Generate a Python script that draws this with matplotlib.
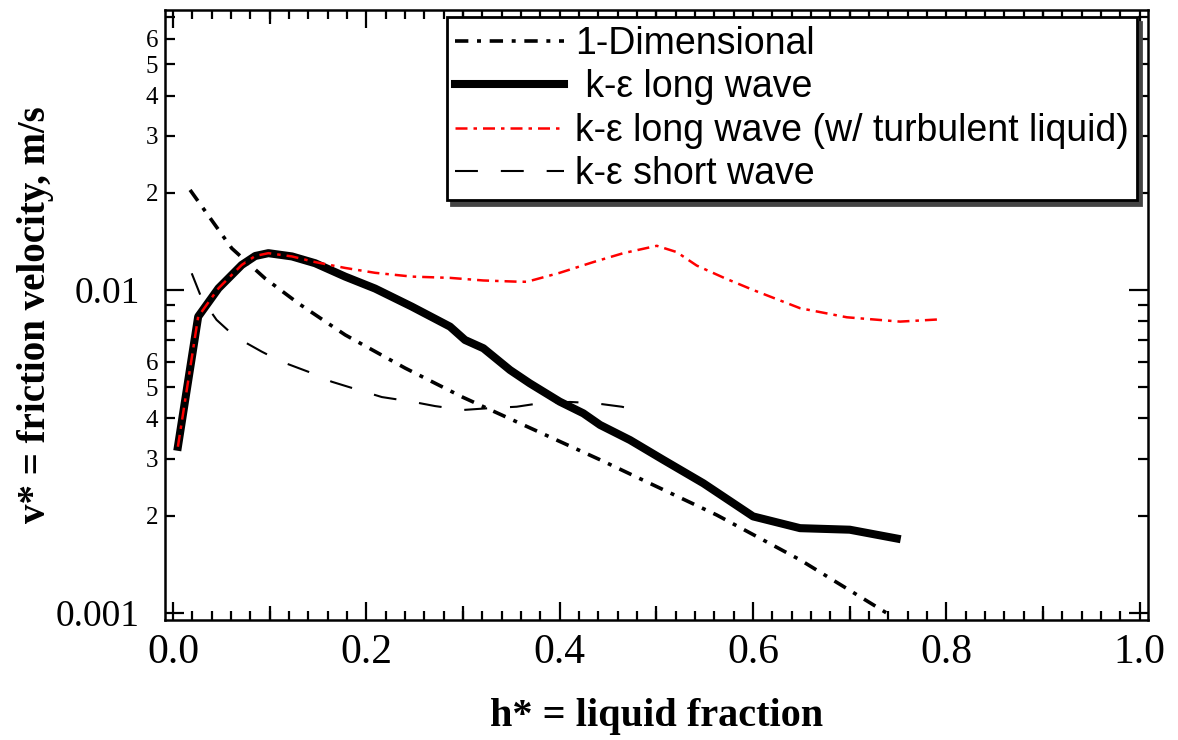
import numpy as np
import matplotlib
matplotlib.use("Agg")
import matplotlib.pyplot as plt
from matplotlib.ticker import FixedLocator, FuncFormatter, MultipleLocator

# ---- data: friction velocity v* (m/s) vs liquid fraction h* ----
h_1d = [0.0176, 0.0607, 0.095, 0.1296, 0.178, 0.240, 0.300, 0.3600, 0.4417, 0.5624, 0.6486, 0.738]
v_1d = [0.0204, 0.01346, 0.01087, 0.00909, 0.00726, 0.00573, 0.00465, 0.00385, 0.00298, 0.00201, 0.00146, 0.00100]

h_long = [0.005, 0.026, 0.047, 0.071, 0.085, 0.0986, 0.123, 0.147, 0.178, 0.209, 0.247,
          0.2865, 0.302, 0.321, 0.3486, 0.369, 0.400, 0.4244, 0.4417, 0.4727, 0.507,
          0.5486, 0.600, 0.6486, 0.700, 0.7486]
v_long = [0.00327, 0.00827, 0.01012, 0.01195, 0.01274, 0.0130, 0.0127, 0.0121, 0.0110, 0.0101, 0.00888,
          0.00770, 0.00700, 0.00660, 0.00565, 0.00514, 0.00451, 0.00415, 0.00382, 0.00343, 0.00298,
          0.00252, 0.00199, 0.00183, 0.00181, 0.00170]

h_turb = [0.005, 0.026, 0.047, 0.071, 0.085, 0.0986, 0.123, 0.147, 0.178, 0.209, 0.247,
          0.2865, 0.321, 0.3555, 0.366, 0.400, 0.4348, 0.4658, 0.5004, 0.521, 0.5417,
          0.570, 0.600, 0.6486, 0.697, 0.752, 0.7934]
v_turb = [0.00327, 0.00827, 0.01012, 0.01195, 0.01274, 0.0130, 0.0127, 0.0122, 0.0117, 0.0113, 0.0110,
          0.0109, 0.0107, 0.01061, 0.0106, 0.0113, 0.0122, 0.0130, 0.0137, 0.0131, 0.0119,
          0.0109, 0.0100, 0.00878, 0.00823, 0.00798, 0.00811]

h_short = [0.0193, 0.0297, 0.045, 0.064, 0.0918, 0.112, 0.140, 0.164, 0.192, 0.216, 0.247,
           0.271, 0.300, 0.3245, 0.3555, 0.3796, 0.4107, 0.4365, 0.4641, 0.4797]
v_short = [0.01126, 0.0094, 0.00808, 0.00717, 0.00644, 0.0060, 0.00558, 0.0052, 0.0049, 0.00466, 0.00451,
           0.00437, 0.00425, 0.0043, 0.00435, 0.00446, 0.0045, 0.00446, 0.00435, 0.00425]

labels = ["1-Dimensional", " k-\u03b5 long wave",
          "k-\u03b5 long wave (w/ turbulent liquid)", "k-\u03b5 short wave"]

serif = "Liberation Serif"
sans = "Liberation Sans"

fig = plt.figure(figsize=(11.78, 7.40), dpi=100)
ax = fig.add_axes([0.1401, 0.1622, 0.8345, 0.8243])

ax.plot(h_long, v_long, color="black", lw=5.8, solid_joinstyle="round", label=labels[1], zorder=3)
ax.plot(h_turb, v_turb, color="red", lw=1.8, linestyle=(0, (4.8, 2.4, 1.4, 2.4)), label=labels[2], zorder=4)
ax.plot(h_1d, v_1d, color="black", lw=2.6, linestyle=(0, (3.7, 2.4, 1.1, 2.4)), label=labels[0], zorder=5)
ax.plot(h_short, v_short, color="black", lw=1.5, linestyle=(0, (11, 11)), label=labels[3], zorder=2)

ax.set_yscale("log")
ax.set_xlim(-0.0083, 1.0086)
ax.set_ylim(0.000951, 0.0736)

# x ticks: labelled every 0.2, small ticks every 0.02
ax.xaxis.set_major_locator(MultipleLocator(0.2))
ax.xaxis.set_minor_locator(MultipleLocator(0.02))
ax.xaxis.set_major_formatter(FuncFormatter(lambda v, p: f"{v:.1f}"))

# y ticks: decades labelled in full, 2..6 labelled by mantissa only
ax.yaxis.set_major_locator(FixedLocator([0.001, 0.01]))
ax.yaxis.set_major_formatter(FuncFormatter(lambda v, p: {0.001: "0.001", 0.01: "0.01"}.get(round(v, 4), "")))
minor_y = [m * d for d in (0.001, 0.01) for m in range(2, 10)]
ax.yaxis.set_minor_locator(FixedLocator(minor_y))


def minor_fmt(v, p):
    m = v / 10 ** np.floor(np.log10(v) + 1e-9)
    m = int(round(m))
    return str(m) if 2 <= m <= 6 else ""


ax.yaxis.set_minor_formatter(FuncFormatter(minor_fmt))

ax.tick_params(which="both", direction="in", top=True, right=True, width=1.6, color="black")
ax.tick_params(axis="x", which="major", length=13, labelsize=30, pad=10)
ax.tick_params(axis="x", which="minor", length=6.5)
ax.tick_params(axis="y", which="major", length=14, labelsize=27, pad=18)
ax.tick_params(axis="y", which="minor", length=7, labelsize=18, pad=5)
for lab in ax.get_xticklabels() + ax.get_yticklabels() + ax.get_yticklabels(minor=True):
    lab.set_fontfamily(serif)

# medium ticks at the odd tenths
for loc in ("bottom", "top"):
    sec = ax.secondary_xaxis(loc)
    sec.set_xticks([0.1, 0.3, 0.5, 0.7, 0.9])
    sec.tick_params(direction="in", length=10, width=1.6, labelbottom=False, labeltop=False)
    sec.spines[loc].set_visible(False)

for sp in ax.spines.values():
    sp.set_linewidth(1.8)

ax.set_xlabel("h* = liquid fraction", fontsize=29, fontweight="bold", fontfamily=serif)
ax.xaxis.set_label_coords(0.5, -0.128)
ax.set_ylabel("v* = friction velocity, m/s", fontsize=28, fontweight="bold", fontfamily=serif)
ax.yaxis.set_label_coords(-0.113, 0.5)

handles, labs = ax.get_legend_handles_labels()
order = [labs.index(l) for l in labels]
leg = ax.legend([handles[i] for i in order], [labs[i] for i in order],
                loc="upper right", bbox_to_anchor=(0.9965, 1.0),
                prop={"family": sans, "size": 27}, frameon=True, fancybox=False,
                shadow={"color": "#444444", "alpha": 1, "ox": 3, "oy": -3}, edgecolor="black",
                framealpha=1, handlelength=2.9, handletextpad=0.3, borderpad=0.22,
                labelspacing=0.2, borderaxespad=0.2)
leg.get_frame().set_linewidth(2.0)

fig.savefig("out.png", dpi=100)
